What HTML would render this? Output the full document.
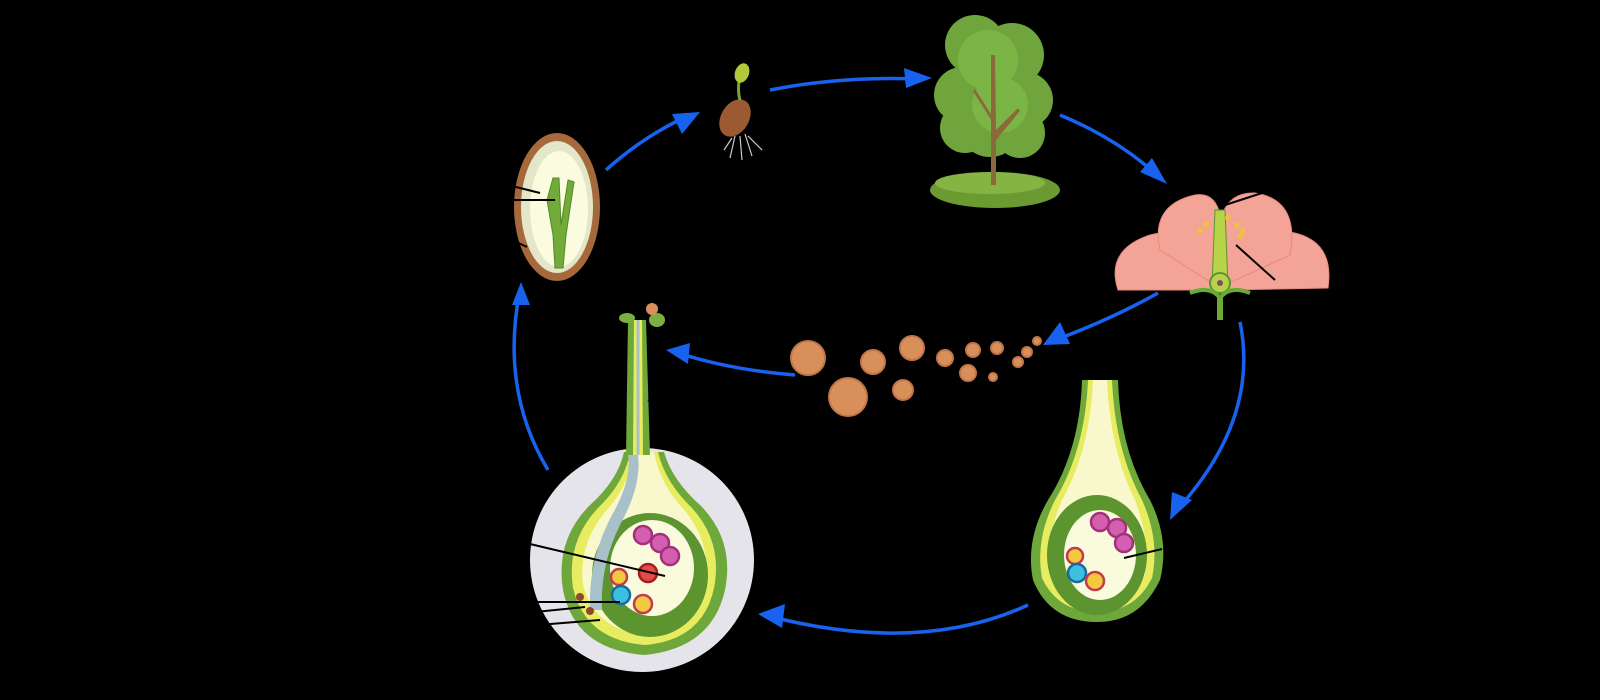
<!DOCTYPE html>
<html><head><meta charset="utf-8"><style>
html,body{margin:0;padding:0;background:#000;width:1600px;height:700px;overflow:hidden}
svg{display:block}
</style></head><body>
<svg width="1600" height="700" viewBox="0 0 1600 700" xmlns="http://www.w3.org/2000/svg">
<rect width="1600" height="700" fill="#000"/>
<g fill="none" stroke="#1763f0" stroke-width="3.5">
<path d="M606,170 Q645,135 690,115"/>
<path d="M770,90 Q840,76 920,79"/>
<path d="M1060,115 Q1120,140 1160,178"/>
<path d="M1158,293 Q1110,320 1050,342"/>
<path d="M795,375 Q730,370 675,352"/>
<path d="M1240,322 Q1260,420 1175,512"/>
<path d="M1028,605 Q920,655 768,616"/>
<path d="M548,470 Q500,390 520,290"/>
</g>
<g fill="#1763f0">
<polygon points="700,112 672,114 682,134"/>
<polygon points="932,78 904,68 906,88"/>
<polygon points="1167,184 1140,172 1152,158"/>
<polygon points="1043,345 1060,322 1070,344"/>
<polygon points="666,350 690,343 688,364"/>
<polygon points="1170,520 1172,492 1192,500"/>
<polygon points="758,614 785,604 782,628"/>
<polygon points="521,282 512,305 530,305"/>
</g>

<!-- seed -->
<ellipse cx="557" cy="207" rx="43" ry="74" fill="#a5693c"/>
<ellipse cx="557" cy="207" rx="36" ry="66" fill="#e3e6c8"/>
<ellipse cx="559" cy="209" rx="29" ry="58" fill="#fbfbe0"/>
<path d="M553,178 L559,178 L561,225 L568,180 L574,182 L566,235 L563,268 L555,268 L553,235 L547,200 Z" fill="#72ab3a" stroke="#4f8a2a" stroke-width="1"/>
<g stroke="#000" stroke-width="2"><line x1="512" y1="186" x2="540" y2="193"/><line x1="512" y1="200" x2="555" y2="200"/><line x1="512" y1="240" x2="527" y2="247"/></g>

<!-- seedling -->
<ellipse cx="735" cy="118" rx="14" ry="20" fill="#9b5a32" transform="rotate(30 735 118)"/>
<path d="M740,100 Q737,90 740,74" stroke="#7aa43a" stroke-width="3" fill="none"/>
<ellipse cx="742" cy="73" rx="7" ry="10" fill="#b4c83c" transform="rotate(20 742 73)"/>
<g stroke="#ccc" stroke-width="1.2"><line x1="735" y1="136" x2="730" y2="158"/><line x1="740" y1="136" x2="742" y2="160"/><line x1="745" y1="134" x2="752" y2="156"/><line x1="748" y1="136" x2="762" y2="150"/><line x1="732" y1="138" x2="724" y2="150"/></g>

<!-- tree -->
<ellipse cx="995" cy="190" rx="65" ry="18" fill="#6b9a33"/>
<ellipse cx="990" cy="183" rx="55" ry="11" fill="#85b443"/>
<g fill="#6fa53c">
<circle cx="975" cy="45" r="30"/><circle cx="1012" cy="55" r="32"/><circle cx="962" cy="95" r="28"/><circle cx="1025" cy="100" r="28"/><circle cx="990" cy="125" r="32"/><circle cx="965" cy="128" r="25"/><circle cx="1020" cy="133" r="25"/>
</g>
<g fill="#7bb545"><circle cx="988" cy="60" r="30"/><circle cx="1000" cy="105" r="28"/></g>
<path d="M991,185 L991,55 L995,55 L996,130 L1018,108 L1020,111 L996,140 L996,185 Z" fill="#8a6a3a"/>
<line x1="993" y1="120" x2="974" y2="90" stroke="#8a6a3a" stroke-width="3"/>

<!-- flower -->
<g fill="#f4a397" stroke="#e48a7e" stroke-width="1">
<path d="M1118,290 Q1105,250 1150,235 Q1190,225 1215,255 L1215,290 Z"/>
<path d="M1328,288 Q1335,240 1290,232 Q1250,228 1225,255 L1225,290 Z"/>
<path d="M1160,250 Q1150,205 1195,195 Q1215,192 1220,215 L1215,285 Z"/>
<path d="M1290,255 Q1300,200 1255,193 Q1230,192 1222,215 L1225,285 Z"/>
</g>
<path d="M1215,210 L1225,210 L1228,285 L1212,285 Z" fill="#b7d448" stroke="#5b9530"/>
<circle cx="1220" cy="283" r="10" fill="#b7d448" stroke="#5b9530" stroke-width="2"/>
<circle cx="1220" cy="283" r="3" fill="#8b4a6a"/>
<path d="M1190,293 Q1210,285 1220,298 Q1230,285 1250,293" stroke="#6aab35" stroke-width="4" fill="none"/>
<line x1="1220" y1="295" x2="1220" y2="320" stroke="#6aab35" stroke-width="6"/>
<g fill="#f0c040"><circle cx="1228" cy="218" r="3"/><circle cx="1237" cy="225" r="3"/><circle cx="1206" cy="224" r="3"/><circle cx="1240" cy="236" r="3"/><circle cx="1200" cy="231" r="3"/><circle cx="1243" cy="231" r="3"/></g>
<g stroke="#000" stroke-width="2"><line x1="1222" y1="206" x2="1262" y2="193"/><line x1="1236" y1="245" x2="1275" y2="280"/></g>

<!-- pollen -->
<g fill="#d98f5a" stroke="#c2754a" stroke-width="2">
<circle cx="808" cy="358" r="17"/><circle cx="848" cy="397" r="19"/><circle cx="873" cy="362" r="12"/><circle cx="912" cy="348" r="12"/><circle cx="903" cy="390" r="10"/>
<circle cx="945" cy="358" r="8"/><circle cx="968" cy="373" r="8"/><circle cx="973" cy="350" r="7"/><circle cx="997" cy="348" r="6"/><circle cx="1018" cy="362" r="5"/><circle cx="1027" cy="352" r="5"/><circle cx="1037" cy="341" r="4"/><circle cx="993" cy="377" r="4"/>
</g>

<!-- right ovule -->
<path d="M1082,380 L1118,380 Q1120,450 1150,500 Q1170,540 1160,580 Q1140,622 1097,622 Q1050,622 1033,580 Q1025,540 1048,500 Q1080,450 1082,380 Z" fill="#6ea83a"/>
<path d="M1088,380 L1112,380 Q1115,450 1142,500 Q1160,540 1152,578 Q1135,612 1097,612 Q1058,612 1042,578 Q1035,540 1055,500 Q1085,450 1088,380 Z" fill="#e8ec60"/>
<path d="M1093,380 L1107,380 Q1110,450 1135,500 Q1150,540 1145,575 Q1130,604 1097,604 Q1064,604 1050,575 Q1045,540 1062,500 Q1090,450 1093,380 Z" fill="#f8f8cc"/>
<ellipse cx="1097" cy="555" rx="50" ry="60" fill="#5c9430"/>
<ellipse cx="1100" cy="555" rx="36" ry="45" fill="#fafadc"/>
<g stroke-width="2.5"><circle cx="1100" cy="522" r="9" fill="#d45fb0" stroke="#a2307a"/><circle cx="1117" cy="528" r="9" fill="#d45fb0" stroke="#a2307a"/><circle cx="1124" cy="543" r="9" fill="#d45fb0" stroke="#a2307a"/>
<circle cx="1075" cy="556" r="8" fill="#f3c940" stroke="#c03a50"/><circle cx="1077" cy="573" r="9" fill="#3cc0e0" stroke="#1a6aa0"/><circle cx="1095" cy="581" r="9" fill="#f3c940" stroke="#c03a50"/></g>
<line x1="1124" y1="558" x2="1162" y2="549" stroke="#000" stroke-width="2"/>

<!-- bottom-left magnified -->
<circle cx="642" cy="560" r="112" fill="#e4e4ea"/>
<path d="M624,452 L664,452 Q672,480 700,505 Q735,540 725,590 Q712,648 645,655 Q575,650 563,590 Q555,540 590,505 Q618,480 624,452 Z" fill="#6ea83a"/>
<path d="M630,452 L658,452 Q665,482 692,508 Q723,542 714,588 Q703,640 645,645 Q585,640 573,588 Q566,542 598,508 Q625,482 630,452 Z" fill="#e8ec60"/>
<path d="M634,452 L654,452 Q660,485 686,512 Q712,545 705,585 Q694,630 645,635 Q595,630 583,585 Q578,545 605,512 Q630,485 634,452 Z" fill="#f8f8cc"/>
<ellipse cx="650" cy="575" rx="58" ry="62" fill="#5c9430"/>
<ellipse cx="652" cy="568" rx="42" ry="48" fill="#fafadc"/>
<path d="M628,455 Q632,480 612,515 Q588,560 590,610 L602,610 Q600,565 620,525 Q642,485 638,455 Z" fill="#a8c0c8"/>
<g stroke-width="2.5"><circle cx="643" cy="535" r="9" fill="#d45fb0" stroke="#a2307a"/><circle cx="660" cy="543" r="9" fill="#d45fb0" stroke="#a2307a"/><circle cx="670" cy="556" r="9" fill="#d45fb0" stroke="#a2307a"/>
<circle cx="648" cy="573" r="9" fill="#e84848" stroke="#a02020"/><circle cx="619" cy="577" r="8" fill="#f3c940" stroke="#c03a50"/><circle cx="621" cy="595" r="9" fill="#3cc0e0" stroke="#1a6aa0"/><circle cx="643" cy="604" r="9" fill="#f3c940" stroke="#c03a50"/></g>
<circle cx="580" cy="597" r="4" fill="#8b4a2a"/><circle cx="590" cy="611" r="4" fill="#8b4a2a"/>
<path d="M626,455 L628,320 L646,320 L650,455 Z" fill="#6ea83a"/>
<path d="M633,455 L634,320 L642,320 L643,455 Z" fill="#e8ec60"/>
<line x1="638" y1="320" x2="638" y2="455" stroke="#a8c0c8" stroke-width="3"/>
<ellipse cx="627" cy="318" rx="8" ry="5" fill="#7ab040"/><ellipse cx="657" cy="320" rx="8" ry="7" fill="#7ab040"/>
<circle cx="652" cy="309" r="6" fill="#d98f5a"/>
<g stroke="#000" stroke-width="2"><line x1="530" y1="544" x2="665" y2="576"/><line x1="532" y1="602" x2="620" y2="602"/><line x1="535" y1="612" x2="585" y2="607"/><line x1="538" y1="625" x2="600" y2="620"/><line x1="648" y1="400" x2="658" y2="405"/></g>
</svg>
</body></html>
